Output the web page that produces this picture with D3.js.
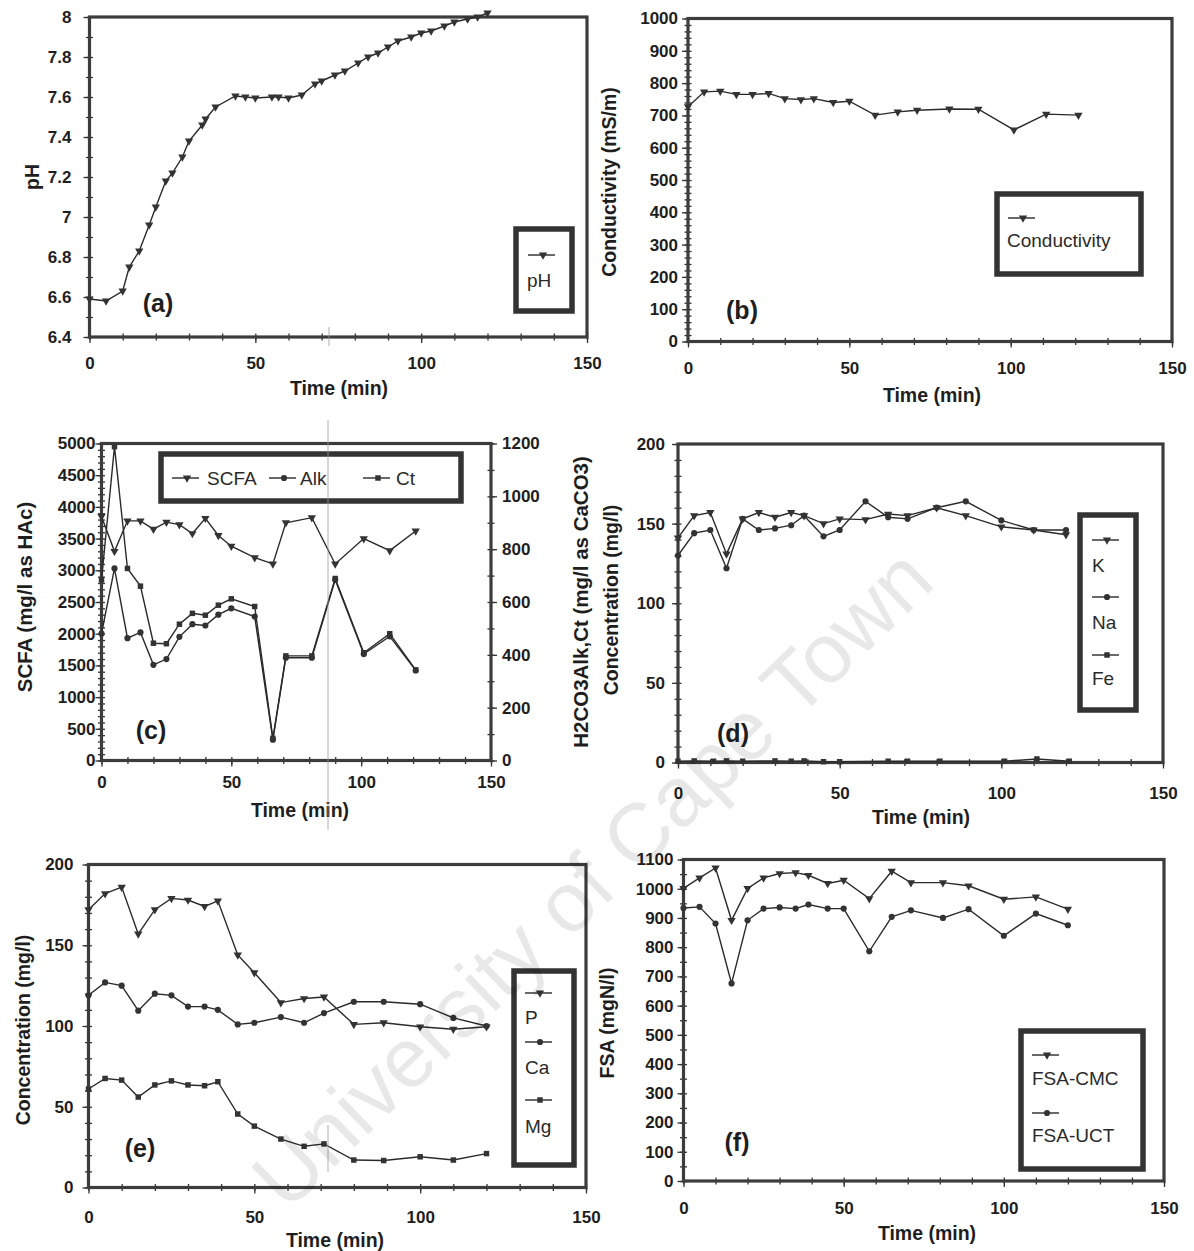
<!DOCTYPE html>
<html><head><meta charset="utf-8">
<script src="https://cdn.jsdelivr.net/npm/d3@7"></script>
<style>body{margin:0;background:#fff} svg{display:block} text{font-family:"Liberation Sans",Arial,sans-serif}</style>
</head><body>
<svg id="c" width="1194" height="1251"></svg>
<script>
// ---------- shared ----------
const timeTicks = [0, 50, 100, 150];
const timeMinor = [0,10,20,30,40,50,60,70,80,90,100,110,120,130,140,150];

// ---------- (a) pH ----------
const phTime   = [0,5,10,12,15,18,20,23,25,28,30,34,35,38,44,47,50,55,57,60,64,68,70,74,77,81,84,87,90,93,97,100,103,107,110,114,117,120];
const phValues = [6.59,6.58,6.63,6.75,6.83,6.96,7.05,7.18,7.22,7.30,7.38,7.46,7.49,7.55,7.605,7.60,7.595,7.60,7.60,7.595,7.61,7.665,7.68,7.71,7.73,7.77,7.80,7.82,7.85,7.88,7.90,7.92,7.93,7.955,7.975,7.99,8.00,8.02];
const phTicks  = [6.4,6.6,6.8,7,7.2,7.4,7.6,7.8,8];
const phMinor  = [6.4,6.5,6.6,6.7,6.8,6.9,7,7.1,7.2,7.3,7.4,7.5,7.6,7.7,7.8,7.9,8];

// ---------- (b) Conductivity ----------
const condTime   = [0,5,10,15,20,25,30,35,39,45,50,58,65,71,81,90,101,111,121];
const condValues = [727,773,775,765,765,768,752,749,752,740,744,701,711,716,720,719,655,704,701];
const condTicks  = [0,100,200,300,400,500,600,700,800,900,1000];

// ---------- (c) SCFA / Alk / Ct ----------
const cTime     = [0,5,10,15,20,25,30,35,40,45,50,59,66,71,81,90,101,111,121];
const scfaValues= [3850,3300,3780,3780,3650,3760,3720,3580,3820,3550,3380,3200,3100,3750,3830,3100,3500,3310,3620];
const alkValues = [480,727,463,485,362,384,468,516,511,552,576,545,79,389,389,684,403,470,341];
const ctValues  = [684,1188,727,660,444,442,516,557,550,588,612,583,84,396,396,689,408,480,343];
const scfaTicks = [0,500,1000,1500,2000,2500,3000,3500,4000,4500,5000];
const carbTicks = [0,200,400,600,800,1000,1200];

// ---------- (d) K / Na / Fe ----------
const dTime    = [0,5,10,15,20,25,30,35,39,45,50,58,65,71,80,89,100,110,120];
const kValues  = [141,155,157,131,153,157,154,157,155,150,153,152.5,156,155,160,155,148,146,143];
const naValues = [130,144,146,122,153,146,147,149,155,142,146,164,154,153,160,164,152,146,146];
const feTime   = [0,5,11,15,20,30,35,39,45,50,65,71,81,101,111,121];
const feValues = [0.8,1,0.8,1,0.8,1,0.8,1,0.5,0.5,0.8,0.8,0.8,0.8,2.2,0.8];
const concTicks = [0,50,100,150,200];

// ---------- (e) P / Ca / Mg ----------
const eTime    = [0,5,10,15,20,25,30,35,39,45,50,58,65,71,80,89,100,110,120];
const pValues  = [172,182,186,157,172,179,178,174,177.5,144,133,114.5,117,118,101,102,99.5,98,99.5];
const caValues = [119,127,125,109.5,120,119,112,112,110,101,102,105.5,102,108,115,115,113.5,105,100];
const mgValues = [61,67.5,66.5,56,63.5,66,63.5,63,65.5,45.5,38,30,25.5,27,17,16.7,19,17,21];

// ---------- (f) FSA ----------
const fTime     = [0,5,10,15,20,25,30,35,39,45,50,58,65,71,81,89,100,110,120];
const cmcValues = [1001,1037,1071,892,1001,1037,1052,1055,1046,1018,1029,966,1060,1021,1021,1010,964,972,930];
const uctValues = [934,938,881,676,892,932,936,932,946,932,932,786,904,926,900,930,839,915,875];
const fsaTicks  = [0,100,200,300,400,500,600,700,800,900,1000,1100];

// ================= drawing =================
const svg = d3.select('#c');
const INK = '#1e1e1e', LINE = '#2a2a2a', MARK = '#333';
const symTypes = {tri: d3.symbolTriangle, circle: d3.symbolCircle, square: d3.symbolSquare};
const symSize = {tri: 30, circle: 30, square: 30};
function markerPath(t){ return d3.symbol().type(symTypes[t]).size(symSize[t])(); }
function markerTf(t, px, py){ return `translate(${px},${py})` + (t==='tri' ? ' rotate(180)' : ''); }
const plain = d => String(d);

// watermark (behind the marks)
const wm = svg.append('g');

function styleAxis(sel, fs){
  sel.select('.domain').remove();
  sel.selectAll('.tick line').attr('stroke', '#333').attr('stroke-width', 1.3);
  sel.selectAll('.tick text').attr('fill', INK).attr('font-size', fs).attr('font-weight', 'bold')
     .attr('font-family', '"Liberation Sans", Arial, sans-serif');
}

function range(a, b, s){ return d3.range(a, b + s/2, s); }

function panel(p){
  const g = svg.append('g');
  const x = d3.scaleLinear().domain([0,150]).range([p.x0, p.x1]);
  const y = d3.scaleLinear().domain(p.yDom).range([p.yb, p.yt]);
  const fs = p.fs || 17;
  g.append('g').attr('transform', `translate(${p.x0+3.5},0)`)
    .call(d3.axisLeft(y).tickValues(p.yMinor).tickSize(7).tickFormat(''))
    .call(s => styleAxis(s, fs));
  g.append('g').attr('transform', `translate(${p.x0},0)`)
    .call(d3.axisLeft(y).tickValues(p.yTicks).tickSizeInner(6).tickSizeOuter(0).tickPadding(p.yPad).tickFormat(p.fmt || plain))
    .call(s => styleAxis(s, fs));
  g.append('g').attr('transform', `translate(0,${p.yb+3.5})`)
    .call(d3.axisTop(x).tickValues(timeMinor).tickSize(7).tickFormat(''))
    .call(s => styleAxis(s, fs));
  g.append('g').attr('transform', `translate(0,${p.yb})`)
    .call(d3.axisBottom(x).tickValues(timeTicks).tickSizeInner(6).tickSizeOuter(0).tickPadding(p.xPad).tickFormat(plain))
    .call(s => styleAxis(s, fs));
  let y2 = null;
  if (p.y2Dom){
    y2 = d3.scaleLinear().domain(p.y2Dom).range([p.yb, p.yt]);
    g.append('g').attr('transform', `translate(${p.x1-3.5},0)`)
      .call(d3.axisRight(y2).tickValues(p.y2Minor).tickSize(7).tickFormat(''))
      .call(s => styleAxis(s, fs));
    g.append('g').attr('transform', `translate(${p.x1},0)`)
      .call(d3.axisRight(y2).tickValues(p.y2Ticks).tickSizeInner(6).tickSizeOuter(0).tickPadding(p.y2Pad).tickFormat(plain))
      .call(s => styleAxis(s, fs));
  }
  g.append('rect').attr('x', p.x0).attr('y', p.yt).attr('width', p.x1-p.x0).attr('height', p.yb-p.yt)
    .attr('fill', 'none').attr('stroke', '#3c3c3c').attr('stroke-width', 3.2);
  p.series.forEach(s => {
    const sc = s.right ? y2 : y;
    const pts = d3.zip(s.t, s.v);
    g.append('path').datum(pts)
      .attr('d', d3.line().x(d => x(d[0])).y(d => sc(d[1])))
      .attr('fill', 'none').attr('stroke', LINE).attr('stroke-width', 1.4);
    g.selectAll(null).data(pts).join('path')
      .attr('d', markerPath(s.m)).attr('transform', d => markerTf(s.m, x(d[0]), sc(d[1])))
      .attr('fill', MARK);
  });
  const tf = p.tfs || 19.5;
  g.append('text').attr('x', p.xtX).attr('y', p.xtY).attr('text-anchor', 'middle').attr('dominant-baseline', 'central')
    .attr('font-size', tf).attr('font-weight', 'bold').attr('fill', INK).text('Time (min)');
  g.append('text').attr('transform', `translate(${p.ytX},${p.ytY}) rotate(-90)`).attr('text-anchor', 'middle')
    .attr('dominant-baseline', 'central').attr('font-size', p.ytfs || tf).attr('font-weight', 'bold').attr('fill', INK).text(p.yTitle);
  if (p.y2Title){
    g.append('text').attr('transform', `translate(${p.yt2X},${p.yt2Y}) rotate(-90)`).attr('text-anchor', 'middle')
      .attr('dominant-baseline', 'central').attr('font-size', p.ytfs || tf).attr('font-weight', 'bold').attr('fill', INK).text(p.y2Title);
  }
  g.append('text').attr('x', p.lab[0]).attr('y', p.lab[1]).attr('text-anchor', 'middle').attr('dominant-baseline', 'central')
    .attr('font-size', 25).attr('fill', INK).attr('font-weight', 'bold').text(p.label);
  const L = p.legend;
  g.append('rect').attr('x', L.box[0]).attr('y', L.box[1]).attr('width', L.box[2]).attr('height', L.box[3])
    .attr('fill', '#fff').attr('stroke', '#333').attr('stroke-width', 5.5);
  L.items.forEach(it => {
    g.append('line').attr('x1', it.sx).attr('x2', it.sx + 27).attr('y1', it.sy).attr('y2', it.sy)
      .attr('stroke', LINE).attr('stroke-width', 1.4);
    g.append('path').attr('d', markerPath(it.m)).attr('transform', markerTf(it.m, it.sx + 15, it.sy)).attr('fill', MARK);
    g.append('text').attr('x', it.tx).attr('y', it.ty).attr('dominant-baseline', 'central')
      .attr('font-size', 19).attr('fill', '#2a2a2a').text(it.label);
  });
  return g;
}

const fmt1 = d => (Math.round(d*10)/10).toString();

panel({x0:89.5, x1:587, yt:17, yb:337, yDom:[6.4,8], yTicks:phTicks, yMinor:phMinor, yPad:12, xPad:14, fmt:fmt1,
  series:[{t:phTime, v:phValues, m:'tri'}],
  xtX:339, xtY:388, ytX:32, ytY:177, yTitle:'pH', label:'(a)', lab:[158,303],
  legend:{box:[516,229,56,82], items:[{sx:528, sy:255, m:'tri', label:'pH', tx:527, ty:280}]}});

panel({x0:688, x1:1172, yt:18.5, yb:341.5, yDom:[0,1000], yTicks:condTicks, yMinor:range(0,1000,20), yPad:4, xPad:14,
  series:[{t:condTime, v:condValues, m:'tri'}],
  xtX:932, xtY:395, ytX:609, ytY:182, yTitle:'Conductivity (mS/m)', label:'(b)', lab:[742,310],
  legend:{box:[997,194,144,80], items:[{sx:1008, sy:218, m:'tri', label:'Conductivity', tx:1007, ty:240}]}});

panel({x0:101.5, x1:491, yt:443.5, yb:760.5, yDom:[0,5000], yTicks:scfaTicks, yMinor:range(0,5000,100), yPad:0, xPad:9,
  y2Dom:[0,1200], y2Ticks:carbTicks, y2Minor:range(0,1200,100), y2Pad:5, ytfs:20.5,
  series:[{t:cTime, v:scfaValues, m:'tri'},{t:cTime, v:alkValues, m:'circle', right:true},{t:cTime, v:ctValues, m:'square', right:true}],
  xtX:300, xtY:810, ytX:24, ytY:597, yTitle:'SCFA (mg/l as HAc)', yt2X:580, yt2Y:602, y2Title:'H2CO3Alk,Ct (mg/l as CaCO3)',
  label:'(c)', lab:[151,730],
  legend:{box:[161,454,300,47], items:[
    {sx:172, sy:478, m:'tri', label:'SCFA', tx:207, ty:478},
    {sx:269, sy:478, m:'circle', label:'Alk', tx:300, ty:478},
    {sx:363, sy:478, m:'square', label:'Ct', tx:396, ty:478}]}});

panel({x0:678, x1:1163, yt:444, yb:762.5, yDom:[0,200], yTicks:concTicks, yMinor:range(0,200,10), yPad:7, xPad:18,
  series:[{t:dTime, v:kValues, m:'tri'},{t:dTime, v:naValues, m:'circle'},{t:feTime, v:feValues, m:'square'}],
  xtX:921, xtY:817, ytX:611, ytY:600, yTitle:'Concentration (mg/l)', label:'(d)', lab:[733,733],
  legend:{box:[1080,515,56,195], items:[
    {sx:1092, sy:540, m:'tri', label:'K', tx:1092, ty:565},
    {sx:1092, sy:597, m:'circle', label:'Na', tx:1092, ty:622},
    {sx:1092, sy:655, m:'square', label:'Fe', tx:1092, ty:678}]}});

panel({x0:88.5, x1:586, yt:864.5, yb:1187.5, yDom:[0,200], yTicks:concTicks, yMinor:range(0,200,10), yPad:9, xPad:17,
  series:[{t:eTime, v:pValues, m:'tri'},{t:eTime, v:caValues, m:'circle'},{t:eTime, v:mgValues, m:'square'}],
  xtX:335, xtY:1240, ytX:23, ytY:1030, yTitle:'Concentration (mg/l)', label:'(e)', lab:[140,1148],
  legend:{box:[514,971,60,194], items:[
    {sx:525, sy:993, m:'tri', label:'P', tx:525, ty:1017},
    {sx:525, sy:1042, m:'circle', label:'Ca', tx:525, ty:1067},
    {sx:525, sy:1100, m:'square', label:'Mg', tx:525, ty:1126}]}});

panel({x0:683.5, x1:1164, yt:859.5, yb:1181, yDom:[0,1100], yTicks:fsaTicks, yMinor:range(0,1100,50), yPad:4, xPad:15,
  series:[{t:fTime, v:cmcValues, m:'tri'},{t:fTime, v:uctValues, m:'circle'}],
  xtX:927, xtY:1233, ytX:607, ytY:1023, yTitle:'FSA (mgN/l)', label:'(f)', lab:[737,1142],
  legend:{box:[1021,1031,122,138], items:[
    {sx:1032, sy:1055, m:'tri', label:'FSA-CMC', tx:1032, ty:1078},
    {sx:1032, sy:1113, m:'circle', label:'FSA-UCT', tx:1032, ty:1135}]}});

// scan artefacts (thin vertical hairlines)
svg.append('line').attr('x1',328).attr('x2',328).attr('y1',420).attr('y2',830).attr('stroke','#999').attr('stroke-width',0.8);
svg.append('line').attr('x1',328).attr('x2',328).attr('y1',1125).attr('y2',1172).attr('stroke','#999').attr('stroke-width',0.8);
svg.append('line').attr('x1',329).attr('x2',329).attr('y1',327).attr('y2',346).attr('stroke','#999').attr('stroke-width',0.8);

// watermark
svg.append('text').attr('transform','translate(592,878) rotate(-44)').attr('text-anchor','middle')
  .attr('dominant-baseline','central').attr('font-size',84).attr('fill','#000').attr('fill-opacity',0.09)
  .text('University of Cape Town');
</script>
</body></html>
